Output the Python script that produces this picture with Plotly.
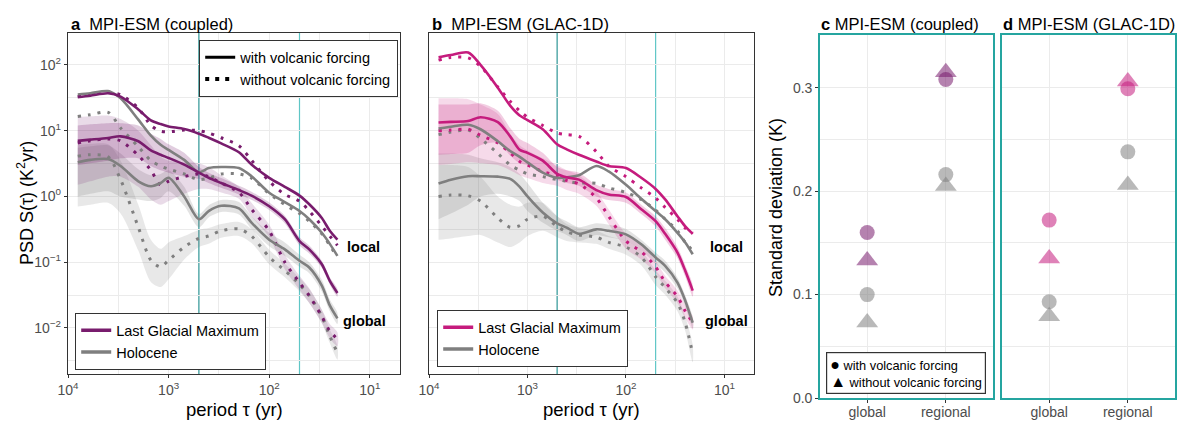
import math
import plotly.graph_objects as go

# ---------------- data ----------------
PERIOD = [8000, 6000, 4000, 3000, 2000, 1500, 1200, 1000, 700, 500, 400, 300, 200, 150, 100, 70, 50, 40, 30, 25, 21]

# panel a  MPI-ESM (coupled)
A_LGM_LOC_V = [32.4, 34, 37, 33, 21, 14.3, 12.6, 11.6, 10.6, 9.0, 7.8, 6.4, 4.7, 3.05, 1.92, 1.40, 1.03, 0.76, 0.47, 0.30, 0.22]
A_LGM_LOC_NV = [33, 35, 39, 35, 22, 12, 9.8, 9.6, 10.2, 10, 9.2, 7.8, 5.9, 3.55, 1.7, 1.07, 0.85, 0.60, 0.355, 0.25, 0.18]
A_HOL_LOC_V = [35.5, 37, 40, 31, 14.7, 8.4, 6.1, 5.1, 3.6, 2.33, 2.7, 2.8, 2.7, 2.03, 1.14, 0.82, 0.60, 0.45, 0.28, 0.19, 0.125]
A_HOL_LOC_NV = [16.4, 17.5, 19, 11, 5.7, 3.5, 2.9, 2.6, 2.2, 1.8, 1.9, 2.2, 2.2, 1.9, 1.1, 0.75, 0.55, 0.42, 0.27, 0.18, 0.12]
A_LGM_GLO_V = [7.0, 7.3, 7.75, 8.2, 6.9, 5.0, 4.3, 3.85, 3.05, 2.3, 1.92, 1.6, 1.25, 1.03, 0.71, 0.45, 0.21, 0.157, 0.093, 0.052, 0.034]
A_LGM_GLO_NV = [6.5, 7, 7.5, 7, 4.2, 2.5, 1.5, 1.7, 2.0, 2.2, 2.0, 1.6, 1.15, 0.64, 0.30, 0.10, 0.049, 0.031, 0.015, 0.009, 0.0068]
A_HOL_GLO_V = [3.3, 3.6, 3.7, 2.9, 1.7, 1.43, 1.6, 1.92, 1.0, 0.45, 0.6, 0.72, 0.66, 0.40, 0.22, 0.157, 0.105, 0.083, 0.044, 0.022, 0.014]
A_HOL_GLO_NV = [4.1, 4.3, 4.0, 1.8, 0.34, 0.107, 0.085, 0.107, 0.17, 0.23, 0.25, 0.30, 0.32, 0.25, 0.12, 0.075, 0.046, 0.031, 0.015, 0.0075, 0.0042]

A_LGM_GLO_V_HI = [12, 12.5, 13, 13, 12, 9, 7.5, 6.2, 4.6, 2.8, 2.3, 1.9, 1.45, 1.18, 0.81, 0.51, 0.24, 0.18, 0.105, 0.059, 0.039]
A_LGM_GLO_V_LO = [3.0, 3.2, 3.5, 3.8, 3.8, 2.9, 2.5, 2.3, 2.0, 1.85, 1.6, 1.35, 1.07, 0.89, 0.62, 0.39, 0.18, 0.136, 0.082, 0.046, 0.03]
A_LGM_GLO_NV_HI = [16, 16.5, 17, 15, 10, 6, 4, 3.5, 3.3, 3.2, 2.8, 2.1, 1.4, 0.8, 0.37, 0.13, 0.062, 0.04, 0.019, 0.0115, 0.0086]
A_LGM_GLO_NV_LO = [1.5, 1.7, 2.0, 2.0, 1.4, 0.9, 0.75, 0.85, 1.1, 1.3, 1.3, 1.15, 0.92, 0.5, 0.24, 0.078, 0.038, 0.024, 0.012, 0.007, 0.0053]
A_HOL_GLO_V_HI = [5.5, 5.8, 6, 4.5, 2.6, 2.1, 2.2, 2.5, 1.4, 0.54, 0.73, 0.88, 0.82, 0.5, 0.28, 0.2, 0.13, 0.1, 0.054, 0.027, 0.017]
A_HOL_GLO_V_LO = [1.0, 1.1, 1.2, 1.0, 0.9, 0.85, 0.95, 1.2, 0.72, 0.34, 0.48, 0.58, 0.53, 0.32, 0.175, 0.125, 0.085, 0.068, 0.036, 0.018, 0.0115]
A_HOL_GLO_NV_HI = [6, 6.3, 6.2, 3.5, 0.75, 0.22, 0.16, 0.2, 0.25, 0.31, 0.33, 0.38, 0.41, 0.32, 0.155, 0.095, 0.058, 0.039, 0.019, 0.0095, 0.0054]
A_HOL_GLO_NV_LO = [0.7, 0.75, 0.8, 0.55, 0.15, 0.05, 0.042, 0.055, 0.11, 0.17, 0.19, 0.235, 0.25, 0.195, 0.093, 0.059, 0.036, 0.024, 0.0118, 0.0059, 0.0033]

# panel b  MPI-ESM (GLAC-1D)
B_LGM_LOC_V = [131, 141, 154, 100, 45, 24, 17, 14.5, 10.5, 6.2, 5.2, 4.3, 3.4, 2.9, 2.7, 1.92, 1.3, 0.9, 0.5, 0.35, 0.27]
B_LGM_LOC_NV = [118, 130, 128, 95, 46, 28, 20, 16, 12, 9.2, 8.7, 8.2, 4.8, 2.9, 2.0, 1.35, 0.95, 0.68, 0.45, 0.33, 0.275]
B_HOL_LOC_V = [10.8, 11.5, 12.3, 10.5, 6.9, 4.9, 4.0, 3.3, 2.3, 1.92, 1.95, 2.1, 2.9, 2.4, 1.5, 0.92, 0.6, 0.45, 0.28, 0.2, 0.132]
B_HOL_LOC_NV = [8.7, 9.5, 10.2, 7.6, 4.5, 3.0, 2.5, 2.2, 2.0, 1.8, 1.7, 1.6, 1.58, 1.35, 1.15, 0.9, 0.62, 0.45, 0.3, 0.2, 0.15]
B_LGM_GLO_V = [13.3, 13.6, 14, 16, 13.5, 8.2, 5.1, 4.6, 3.5, 2.2, 1.95, 1.8, 1.25, 1.07, 0.98, 0.64, 0.42, 0.27, 0.14, 0.074, 0.037]
B_LGM_GLO_NV = [10, 10.2, 10.5, 8.5, 6.5, 4.6, 3.4, 3.0, 2.4, 2.05, 1.75, 1.55, 0.95, 0.5, 0.21, 0.145, 0.085, 0.05, 0.03, 0.018, 0.012]
B_HOL_GLO_V = [1.57, 1.8, 2.03, 2.03, 2.0, 1.85, 1.4, 1.0, 0.57, 0.39, 0.335, 0.27, 0.316, 0.3, 0.265, 0.187, 0.118, 0.088, 0.049, 0.026, 0.012]
B_HOL_GLO_NV = [1.0, 1.05, 1.02, 0.85, 0.47, 0.34, 0.36, 0.45, 0.5, 0.35, 0.29, 0.26, 0.24, 0.2, 0.17, 0.12, 0.06, 0.041, 0.024, 0.012, 0.004]

B_LGM_GLO_V_HI = [25, 25, 25, 26, 20, 11, 7.5, 6.5, 4.6, 2.8, 2.5, 2.3, 1.5, 1.3, 1.15, 0.75, 0.5, 0.33, 0.17, 0.09, 0.045]
B_LGM_GLO_V_LO = [4.3, 4.4, 4.6, 6, 6.5, 4.2, 3.2, 3.0, 2.3, 1.8, 1.6, 1.45, 1.0, 0.88, 0.8, 0.54, 0.35, 0.22, 0.115, 0.06, 0.03]
B_LGM_GLO_NV_HI = [31, 31, 30, 25, 18, 9, 6, 5, 3.8, 3.0, 2.5, 2.1, 1.2, 0.64, 0.27, 0.19, 0.105, 0.062, 0.037, 0.022, 0.015]
B_LGM_GLO_NV_LO = [3.0, 3.1, 3.3, 3.2, 3.0, 2.5, 2.1, 1.9, 1.6, 1.45, 1.25, 1.1, 0.72, 0.38, 0.16, 0.11, 0.068, 0.04, 0.024, 0.014, 0.0095]
B_HOL_GLO_V_HI = [4.5, 4.5, 4.3, 3.8, 3.3, 2.8, 2.2, 1.6, 0.8, 0.5, 0.42, 0.34, 0.39, 0.37, 0.32, 0.22, 0.14, 0.105, 0.058, 0.031, 0.0145]
B_HOL_GLO_V_LO = [0.45, 0.55, 0.75, 1.0, 1.1, 1.0, 0.85, 0.6, 0.4, 0.3, 0.26, 0.21, 0.26, 0.24, 0.21, 0.15, 0.095, 0.07, 0.04, 0.021, 0.0098]
B_HOL_GLO_NV_HI = [3.0, 3.0, 2.8, 2.0, 1.0, 0.75, 0.7, 0.8, 0.8, 0.5, 0.38, 0.33, 0.3, 0.25, 0.21, 0.15, 0.075, 0.052, 0.03, 0.015, 0.0055]
B_HOL_GLO_NV_LO = [0.22, 0.23, 0.25, 0.26, 0.2, 0.17, 0.2, 0.25, 0.3, 0.24, 0.21, 0.2, 0.19, 0.16, 0.13, 0.09, 0.045, 0.032, 0.018, 0.009, 0.003]

# panels c, d : standard deviation (K)
SCALES = ["global", "regional"]
C_LGM_V = [0.160, 0.308]
C_LGM_NV = [0.133, 0.315]
C_HOL_V = [0.100, 0.216]
C_HOL_NV = [0.073, 0.205]
D_LGM_V = [0.172, 0.299]
D_LGM_NV = [0.135, 0.306]
D_HOL_V = [0.093, 0.238]
D_HOL_NV = [0.079, 0.206]

VLINES = [500, 50]
X_TICKS = [1e4, 1e3, 1e2, 1e1]
X_TICKTEXT = ["10<sup>4</sup>", "10<sup>3</sup>", "10<sup>2</sup>", "10<sup>1</sup>"]
Y_TICKS = [1e-2, 1e-1, 1, 10, 100]
Y_TICKTEXT = ["10<sup>\u22122</sup>", "10<sup>\u22121</sup>", "10<sup>0</sup>", "10<sup>1</sup>", "10<sup>2</sup>"]

# ---------------- style ----------------
W, H = 1183, 421
FONT = "Liberation Sans, Arial, Helvetica, sans-serif"
PURPLE = "#781c6d"
MAGENTA = "#c51b7d"
GRAY = "#7f7f7f"
TEAL_D = "#2e9595"
TEAL_L = "#5fc6c6"
BOX_TEAL = "#25a5a0"
GRID = "#ebebeb"
DOT = "3px,7px"


def px(xp):
    return xp / W


def py(yp):
    return 1 - yp / H


def rgba(hexc, a):
    h = hexc.lstrip("#")
    r, g, b = int(h[0:2], 16), int(h[2:4], 16), int(h[4:6], 16)
    return f"rgba({r},{g},{b},{a})"


fig = go.Figure()


def band(xa, ya, hi, lo, color, alpha):
    fig.add_trace(go.Scatter(
        x=PERIOD + PERIOD[::-1], y=hi + lo[::-1], xaxis=xa, yaxis=ya,
        mode="lines", fill="toself", fillcolor=rgba(color, alpha),
        line=dict(width=0, shape="spline", smoothing=0.8), hoverinfo="skip", showlegend=False))


def curve(xa, ya, vals, color, dotted):
    fig.add_trace(go.Scatter(
        x=PERIOD, y=vals, xaxis=xa, yaxis=ya, mode="lines",
        line=dict(color=color, width=3 if dotted else 2.6, dash=DOT if dotted else "solid",
                  shape="spline", smoothing=0.8),
        showlegend=False))


# panel a
band("x", "y", A_HOL_GLO_NV_HI, A_HOL_GLO_NV_LO, GRAY, 0.18)
band("x", "y", A_HOL_GLO_V_HI, A_HOL_GLO_V_LO, GRAY, 0.22)
band("x", "y", A_LGM_GLO_NV_HI, A_LGM_GLO_NV_LO, PURPLE, 0.16)
band("x", "y", A_LGM_GLO_V_HI, A_LGM_GLO_V_LO, PURPLE, 0.22)
for vals, col, dot in [(A_HOL_LOC_NV, GRAY, True), (A_HOL_GLO_NV, GRAY, True),
                       (A_LGM_LOC_NV, PURPLE, True), (A_LGM_GLO_NV, PURPLE, True),
                       (A_HOL_LOC_V, GRAY, False), (A_HOL_GLO_V, GRAY, False),
                       (A_LGM_LOC_V, PURPLE, False), (A_LGM_GLO_V, PURPLE, False)]:
    curve("x", "y", vals, col, dot)

# panel b
band("x2", "y2", B_HOL_GLO_NV_HI, B_HOL_GLO_NV_LO, GRAY, 0.18)
band("x2", "y2", B_HOL_GLO_V_HI, B_HOL_GLO_V_LO, GRAY, 0.22)
band("x2", "y2", B_LGM_GLO_NV_HI, B_LGM_GLO_NV_LO, MAGENTA, 0.16)
band("x2", "y2", B_LGM_GLO_V_HI, B_LGM_GLO_V_LO, MAGENTA, 0.22)
for vals, col, dot in [(B_HOL_LOC_NV, GRAY, True), (B_HOL_GLO_NV, GRAY, True),
                       (B_LGM_LOC_NV, MAGENTA, True), (B_LGM_GLO_NV, MAGENTA, True),
                       (B_HOL_LOC_V, GRAY, False), (B_HOL_GLO_V, GRAY, False),
                       (B_LGM_LOC_V, MAGENTA, False), (B_LGM_GLO_V, MAGENTA, False)]:
    curve("x2", "y2", vals, col, dot)

# panels c, d
XPOS = [0, 1]
for xa, ya, lgm_v, lgm_nv, hol_v, hol_nv, col in [
        ("x3", "y3", C_LGM_V, C_LGM_NV, C_HOL_V, C_HOL_NV, PURPLE),
        ("x4", "y4", D_LGM_V, D_LGM_NV, D_HOL_V, D_HOL_NV, MAGENTA)]:
    for vals, c, sym, size in [(hol_nv, GRAY, "triangle-up", 19), (hol_v, GRAY, "circle", 15),
                               (lgm_nv, col, "triangle-up", 19), (lgm_v, col, "circle", 15)]:
        fig.add_trace(go.Scatter(x=XPOS, y=vals, xaxis=xa, yaxis=ya, mode="markers",
                                 marker=dict(color=rgba(c, 0.55), symbol=sym, size=size, line=dict(width=0)),
                                 showlegend=False))

# legend entries
fig.add_trace(go.Scatter(x=[None], y=[None], mode="lines", name="with volcanic forcing",
                         line=dict(color="black", width=3), legend="legend"))
fig.add_trace(go.Scatter(x=[None], y=[None], mode="lines", name="without volcanic forcing",
                         line=dict(color="black", width=4, dash="4px,6px"), legend="legend"))
fig.add_trace(go.Scatter(x=[None], y=[None], mode="lines", name="Last Glacial Maximum",
                         line=dict(color=PURPLE, width=3.5), legend="legend2"))
fig.add_trace(go.Scatter(x=[None], y=[None], mode="lines", name="Holocene",
                         line=dict(color=GRAY, width=3.5), legend="legend2"))
fig.add_trace(go.Scatter(x=[None], y=[None], mode="lines", name="Last Glacial Maximum",
                         line=dict(color=MAGENTA, width=3.5), legend="legend3", xaxis="x2", yaxis="y2"))
fig.add_trace(go.Scatter(x=[None], y=[None], mode="lines", name="Holocene",
                         line=dict(color=GRAY, width=3.5), legend="legend3", xaxis="x2", yaxis="y2"))

# ---------------- axes ----------------
TICKFONT = dict(family=FONT, size=14, color="#4d4d4d")
XMINOR = [10 ** 3.5, 10 ** 2.5, 10 ** 1.5, 10 ** 0.5]
YMINOR = [10 ** -2.5, 10 ** -1.5, 10 ** -0.5, 10 ** 0.5, 10 ** 1.5]
YDOM_AB = [py(374), py(33)]
YDOM_CD = [py(398), py(35)]


def log_x(dom, anchor):
    return dict(type="log", domain=dom, anchor=anchor, range=[4, 0.7], autorange=False, automargin=False,
                tickmode="array", tickvals=X_TICKS, ticktext=X_TICKTEXT, tickfont=TICKFONT,
                ticks="outside", ticklen=3, tickcolor="#333333", showgrid=True, gridcolor=GRID, gridwidth=1,
                minor=dict(tickmode="array", tickvals=XMINOR, showgrid=True, gridcolor=GRID, gridwidth=0.8, ticks=""),
                showline=True, linecolor="#333333", linewidth=1.3, mirror=True, zeroline=False)


def log_y(dom, anchor, labels):
    return dict(type="log", domain=dom, anchor=anchor, range=[-2.70, 2.485], autorange=False, automargin=False,
                tickmode="array", tickvals=Y_TICKS, ticktext=Y_TICKTEXT, tickfont=TICKFONT,
                showticklabels=labels, ticks="outside" if labels else "", ticklen=3, tickcolor="#333333",
                showgrid=True, gridcolor=GRID, gridwidth=1,
                minor=dict(tickmode="array", tickvals=YMINOR, showgrid=True, gridcolor=GRID, gridwidth=0.8, ticks=""),
                showline=True, linecolor="#333333", linewidth=1.3, mirror=True, zeroline=False)


def cat_x(dom, anchor):
    return dict(domain=dom, anchor=anchor, range=[-0.6, 1.6], autorange=False, automargin=False, tickmode="array",
                tickvals=XPOS, ticktext=SCALES, tickfont=TICKFONT, ticks="outside", ticklen=3,
                ticklabelstandoff=-3,
                tickcolor="#333333", showgrid=True, gridcolor=GRID, gridwidth=1,
                showline=True, linecolor=BOX_TEAL, linewidth=1.6, mirror=True, zeroline=False)


def sd_y(dom, anchor, labels):
    return dict(domain=dom, anchor=anchor, range=[0, 0.351], autorange=False, automargin=False, tickmode="array",
                tickvals=[0, 0.1, 0.2, 0.3], ticktext=["0.0", "0.1", "0.2", "0.3"], tickfont=TICKFONT,
                showticklabels=labels, ticks="outside" if labels else "", ticklen=3, tickcolor="#333333",
                showgrid=True, gridcolor=GRID, gridwidth=1,
                minor=dict(tickmode="array", tickvals=[0.05, 0.15, 0.25], showgrid=True, gridcolor=GRID,
                           gridwidth=0.8, ticks=""),
                showline=True, linecolor=BOX_TEAL, linewidth=1.6, mirror=True, zeroline=False)


LEGFONT = dict(family=FONT, size=14.5, color="black")
layout = dict(
    width=W, height=H, margin=dict(l=0, r=0, t=0, b=0, pad=0, autoexpand=False),
    paper_bgcolor="white", plot_bgcolor="white",
    font=dict(family=FONT, color="black"), hovermode=False,
    xaxis=log_x([px(68), px(400)], "y"), yaxis=log_y(YDOM_AB, "x", True),
    xaxis2=log_x([px(429), px(754)], "y2"), yaxis2=log_y(YDOM_AB, "x2", False),
    xaxis3=cat_x([px(820), px(993)], "y3"), yaxis3=sd_y(YDOM_CD, "x3", True),
    xaxis4=cat_x([px(1002), px(1175)], "y4"), yaxis4=sd_y(YDOM_CD, "x4", False),
    legend=dict(x=px(398), y=py(40), xanchor="right", yanchor="top", bgcolor="white",
                bordercolor="#333333", borderwidth=1.2, font=LEGFONT, itemwidth=30, tracegroupgap=0),
    legend2=dict(x=px(75), y=py(370), xanchor="left", yanchor="bottom", bgcolor="white",
                 bordercolor="#333333", borderwidth=1.2, font=LEGFONT, itemwidth=30),
    legend3=dict(x=px(437), y=py(367), xanchor="left", yanchor="bottom", bgcolor="white",
                 bordercolor="#333333", borderwidth=1.2, font=LEGFONT, itemwidth=30),
)
fig.update_layout(**layout)

# vertical reference lines
for xa, ya in [("x", "y"), ("x2", "y2")]:
    for v, c in zip(VLINES, [TEAL_D, TEAL_L]):
        fig.add_shape(type="line", xref=xa, yref=f"{ya} domain", x0=v, x1=v, y0=0, y1=1,
                      line=dict(color=c, width=1.2), layer="below")

# ---------------- text ----------------
ann = []


def text(x, y, s, size, xanchor="center", yanchor="middle", angle=0, xref="paper", yref="paper", **kw):
    ann.append(dict(x=x, y=y, xref=xref, yref=yref, text=s, showarrow=False, xanchor=xanchor,
                    yanchor=yanchor, textangle=angle, font=dict(family=FONT, size=size, color="black"), **kw))


text(px(69), py(24), "<b>a</b>  MPI-ESM (coupled)", 16.5, xanchor="left")
text(px(430), py(24), "<b>b</b>  MPI-ESM (GLAC-1D)", 16.5, xanchor="left")
text(px(819), py(24), "<b>c</b> MPI-ESM (coupled)", 16.5, xanchor="left")
text(px(1001), py(24), "<b>d</b> MPI-ESM (GLAC-1D)", 16.5, xanchor="left")
text(px(25), py(203), "PSD S(\u03c4) (K<sup>2</sup>yr)", 18, angle=-90)
text(px(234), py(409), "period \u03c4 (yr)", 18.5)
text(px(591), py(409), "period \u03c4 (yr)", 18.5)
text(px(776), py(208), "Standard deviation (K)", 18, angle=-90)
for xa, ya in [("x", "y"), ("x2", "y2")]:
    text(math.log10(11.5) if xa == "x" else math.log10(9.5), math.log10(0.17), "<b>local</b>", 14.5,
         xref=xa, yref=ya)
    text(math.log10(11.3) if xa == "x" else math.log10(9.6), math.log10(0.0128), "<b>global</b>", 14.5,
         xref=xa, yref=ya)
# marker legend of panel c
text(px(826), py(394),
     "<span style=\"font-size:16px\">\u25cf</span> with volcanic forcing<br>"
     "<span style=\"font-size:16px\">\u25b2</span> without volcanic forcing", 12.8,
     xanchor="left", yanchor="bottom", align="left", bordercolor="#333333", borderwidth=1.2,
     borderpad=3, bgcolor="white")
fig.update_layout(annotations=ann)

fig.write_html("out.html")
